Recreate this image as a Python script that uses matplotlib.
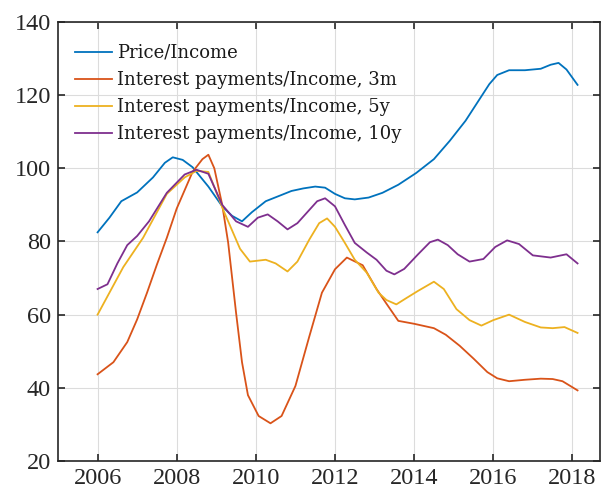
import matplotlib
matplotlib.use("Agg")
import matplotlib.pyplot as plt

# ---------------- data ----------------
price_x = [2006.0, 2006.3, 2006.6, 2007.0, 2007.4, 2007.7, 2007.9, 2008.15, 2008.4, 2008.8,
           2009.15, 2009.4, 2009.65, 2009.9, 2010.25, 2010.6, 2010.9, 2011.2, 2011.5, 2011.75,
           2012.0, 2012.25, 2012.5, 2012.85, 2013.2, 2013.6, 2014.05, 2014.5, 2014.9, 2015.3,
           2015.6, 2015.9, 2016.1, 2016.4, 2016.8, 2017.2, 2017.45, 2017.65, 2017.85, 2018.13]
price_y = [82.5, 86.5, 91.0, 93.4, 97.5, 101.5, 103.0, 102.3, 100.3, 95.0,
           89.6, 87.0, 85.5, 88.0, 91.0, 92.5, 93.8, 94.5, 95.0, 94.7,
           93.0, 91.8, 91.5, 92.0, 93.3, 95.5, 98.7, 102.5, 107.5, 113.0,
           118.0, 123.0, 125.5, 126.8, 126.8, 127.2, 128.3, 128.8, 127.0, 122.8]

m3_x = [2006.0, 2006.4, 2006.75, 2007.0, 2007.25, 2007.5, 2007.75, 2008.0, 2008.4, 2008.65,
        2008.8, 2008.95, 2009.15, 2009.3, 2009.5, 2009.65, 2009.8, 2010.07, 2010.37, 2010.65,
        2011.0, 2011.35, 2011.67, 2012.0, 2012.3, 2012.7, 2013.05, 2013.3, 2013.6, 2014.0,
        2014.5, 2014.8, 2015.15, 2015.5, 2015.85, 2016.1, 2016.4, 2016.8, 2017.2, 2017.5,
        2017.75, 2018.13]
m3_y = [43.7, 47.0, 52.5, 58.7, 66.0, 73.7, 81.0, 89.0, 99.0, 102.5,
        103.7, 100.0, 90.0, 79.7, 60.5, 47.0, 38.0, 32.3, 30.3, 32.3,
        40.5, 54.0, 66.0, 72.4, 75.6, 73.5, 67.0, 63.0, 58.3, 57.5,
        56.3, 54.5, 51.5, 48.0, 44.3, 42.6, 41.8, 42.2, 42.5, 42.4,
        41.8, 39.3]

y5_x = [2006.0, 2006.3, 2006.65, 2007.15, 2007.4, 2007.75, 2008.2, 2008.5, 2008.8, 2009.2,
        2009.6, 2009.85, 2010.25, 2010.5, 2010.8, 2011.05, 2011.35, 2011.6, 2011.8, 2012.0,
        2012.25, 2012.5, 2012.8, 2013.1, 2013.3, 2013.55, 2013.8, 2014.1, 2014.5, 2014.75,
        2015.07, 2015.4, 2015.7, 2016.0, 2016.4, 2016.8, 2017.2, 2017.5, 2017.8, 2018.13]
y5_y = [60.0, 66.0, 73.0, 81.0, 86.0, 93.0, 97.5, 99.3, 99.0, 88.0,
        78.0, 74.5, 75.0, 74.0, 71.8, 74.5, 80.5, 85.0, 86.3, 84.0,
        79.6, 75.0, 71.5, 66.0, 64.0, 62.8, 64.5, 66.5, 69.0, 67.0,
        61.5, 58.5, 57.0, 58.5, 60.0, 58.0, 56.5, 56.3, 56.6, 55.0]

y10_x = [2006.0, 2006.25, 2006.5, 2006.75, 2007.0, 2007.3, 2007.75, 2008.2, 2008.5, 2008.8,
         2009.15, 2009.5, 2009.8, 2010.05, 2010.3, 2010.55, 2010.8, 2011.05, 2011.3, 2011.55,
         2011.75, 2012.0, 2012.25, 2012.5, 2012.8, 2013.05, 2013.3, 2013.5, 2013.75, 2014.1,
         2014.4, 2014.6, 2014.85, 2015.1, 2015.4, 2015.75, 2016.05, 2016.35, 2016.65, 2017.0,
         2017.45, 2017.85, 2018.13]
y10_y = [67.0, 68.3, 74.0, 79.0, 81.5, 85.5, 93.3, 98.3, 99.6, 98.5,
         90.0, 85.5, 84.0, 86.5, 87.4, 85.5, 83.3, 85.0, 88.0, 91.0,
         91.8, 89.6, 84.5, 79.6, 77.0, 75.0, 72.0, 71.0, 72.5, 76.5,
         79.8, 80.5, 79.0, 76.5, 74.5, 75.2, 78.5, 80.3, 79.3, 76.2,
         75.6, 76.5, 74.0]

labels = ["Price/Income",
          "Interest payments/Income, 3m",
          "Interest payments/Income, 5y",
          "Interest payments/Income, 10y"]
colors = ["#0072BD", "#D95319", "#EDB120", "#7E2F8E"]

x_ticks = [2006, 2008, 2010, 2012, 2014, 2016, 2018]
y_ticks = [20, 40, 60, 80, 100, 120, 140]

# ---------------- plot ----------------
fig = plt.figure(figsize=(6.03, 4.95), dpi=100)
ax = fig.add_axes([0.0962, 0.0687, 0.899, 0.887])

series = [(price_x, price_y), (m3_x, m3_y), (y5_x, y5_y), (y10_x, y10_y)]
for (xs, ys), lab, col in zip(series, labels, colors):
    ax.plot(xs, ys, color=col, linewidth=1.3, label=lab)

ax.set_xlim(2005.0, 2018.7)
ax.set_ylim(20, 140)
ax.set_xticks(x_ticks)
ax.set_yticks(y_ticks)
ax.grid(True, color="#dcdcdc", linewidth=0.8)
ax.set_axisbelow(True)

for sp in ax.spines.values():
    sp.set_color("#262626")
    sp.set_linewidth(1.2)
ax.tick_params(direction="in", length=5, width=1.2, top=True, right=True,
               colors="#262626", labelcolor="#262626", pad=5)
for t in ax.get_xticklabels() + ax.get_yticklabels():
    t.set_fontfamily("Liberation Serif")
    t.set_fontsize(17.5)

leg = ax.legend(loc="upper left", bbox_to_anchor=(0.031, 0.95), frameon=False,
                borderpad=0, borderaxespad=0, handlelength=2.05, handletextpad=0.28,
                labelspacing=0.5, prop={"family": "DejaVu Serif", "size": 13})
for t in leg.get_texts():
    t.set_color("#1a1a1a")

fig.savefig("out.png", dpi=100)
